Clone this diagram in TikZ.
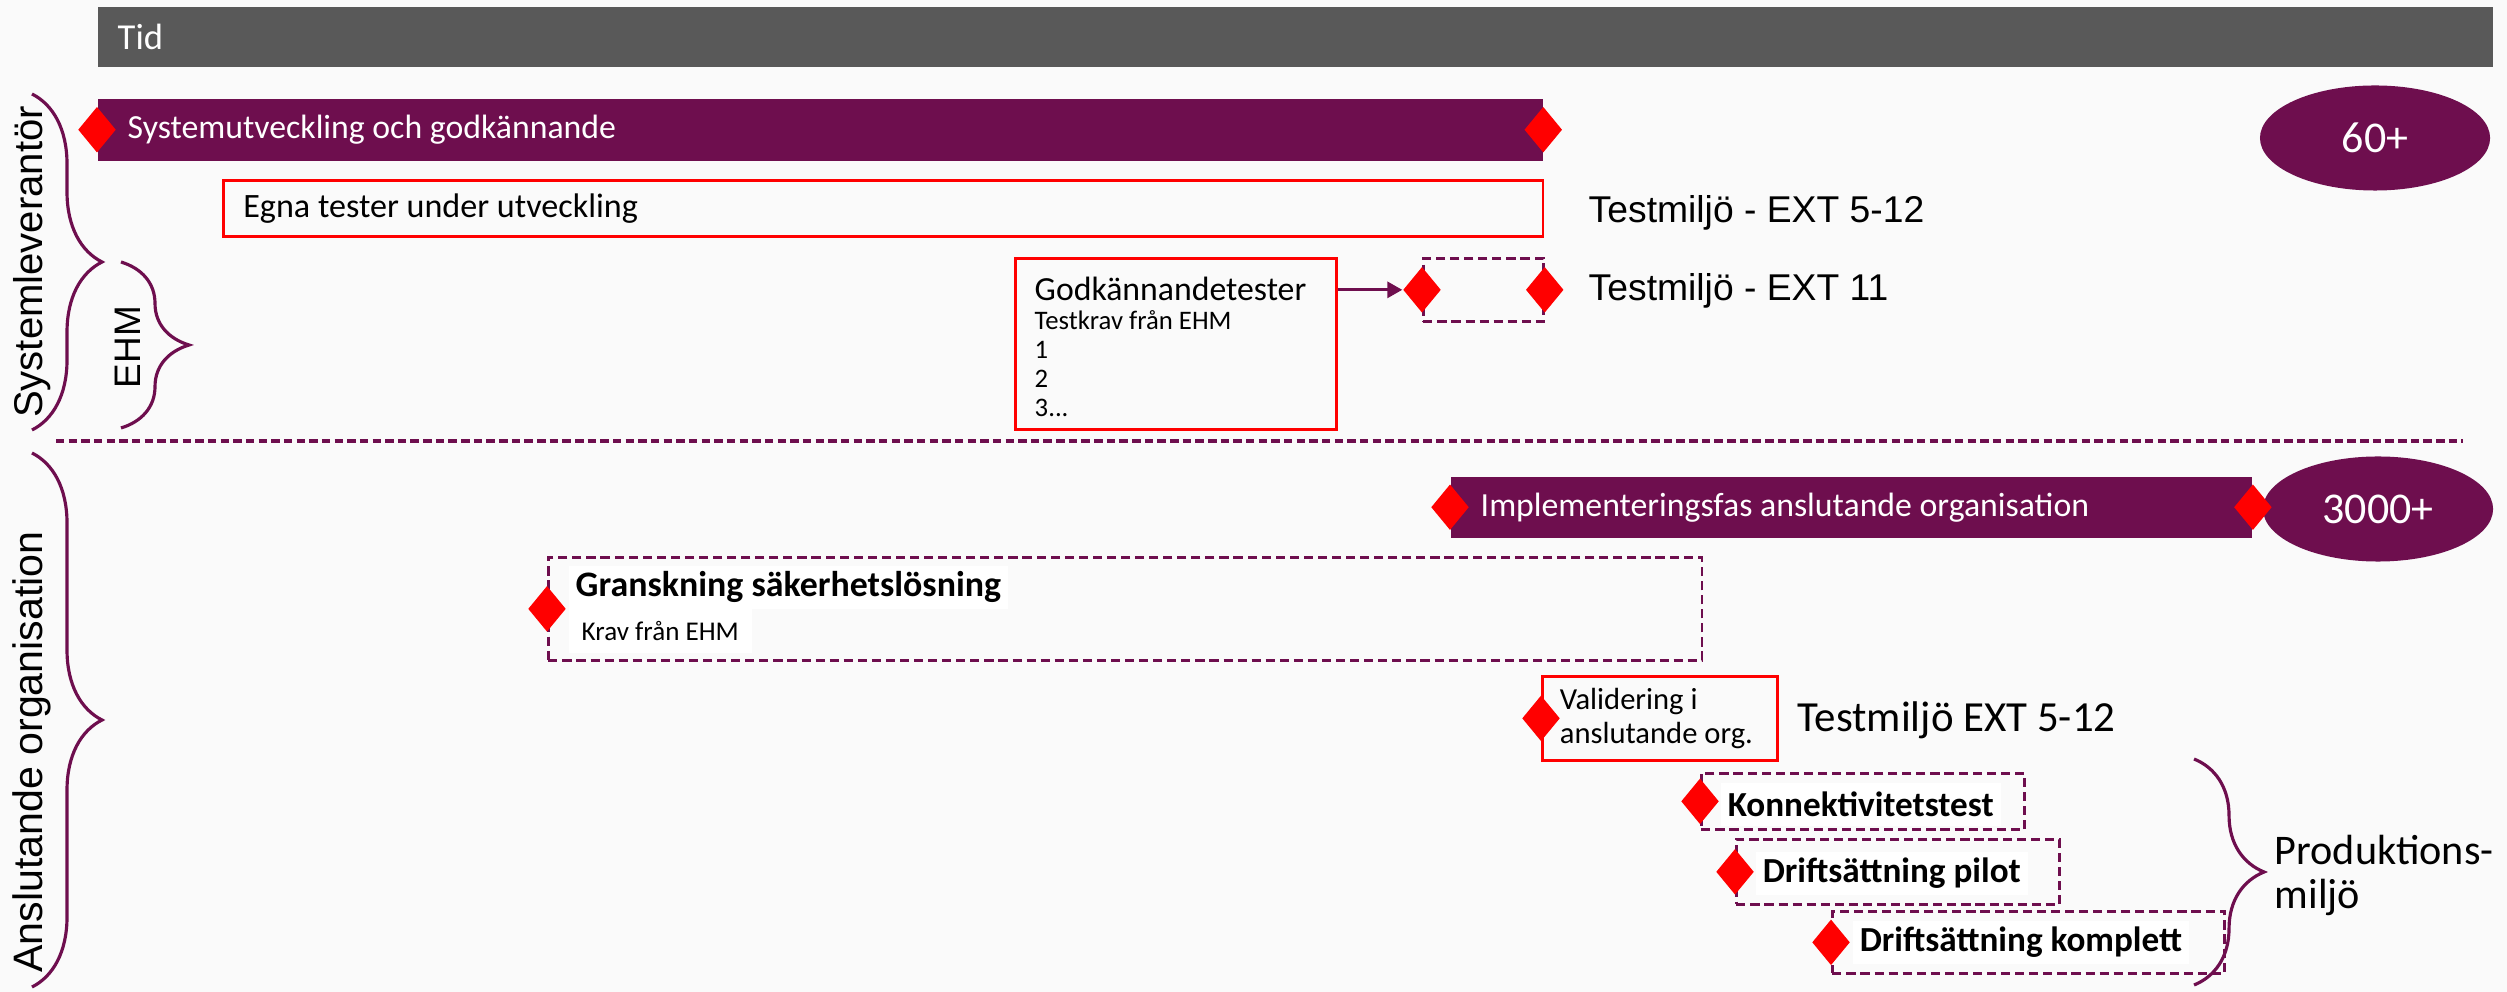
\documentclass[tikz,border=0pt]{standalone}
\usepackage{fontspec}
\setmainfont{Carlito}
\newfontfamily\arialfont{Liberation Sans}
\usepackage{xcolor}
\usepackage{tikz}
\usetikzlibrary{shapes.geometric,arrows.meta,positioning,decorations.pathreplacing}

\definecolor{plum}{RGB}{110,14,78}
\definecolor{bargray}{RGB}{89,89,89}
\definecolor{pagebg}{RGB}{250,250,250}
\definecolor{msred}{RGB}{255,0,0}

\begin{document}
\begin{tikzpicture}[
    x=0.01cm, y=-0.01cm,
    every node/.style={execute at begin node={\spaceskip=0pt\xspaceskip=0pt}},
    timebar/.style={rectangle, fill=bargray, anchor=north west, text=white, align=left, inner xsep=0.2cm, font=\fontsize{10.4}{12}\selectfont},
    phase/.style={rectangle, fill=plum, anchor=north west, text=white, align=left, inner xsep=0.3cm, font=\fontsize{9.6}{11}\selectfont},
    redbox/.style={rectangle, draw=msred, line width=0.75pt, anchor=north west, align=left, inner xsep=0.2cm},
    dashbox/.style={rectangle, draw=plum, dash pattern=on 2.6pt off 1.4pt, line width=0.75pt, anchor=north west, inner sep=0pt},
    ms/.style={diamond, fill=msred, minimum width=0.38cm, minimum height=0.46cm, inner sep=0pt},
    count/.style={ellipse, fill=plum, text=white, inner sep=0pt, minimum width=2.3cm, minimum height=1.05cm, font=\fontsize{12.5}{14}\selectfont},
    tag/.style={rectangle, fill=white, anchor=north west, inner xsep=2pt, inner ysep=0pt, minimum height=0.43cm, font=\fontsize{10}{12}\selectfont\bfseries},
    envlabel/.style={anchor=west, inner sep=0pt, font=\arialfont\fontsize{10.6}{12}\selectfont},
    grplabel/.style={rotate=90, inner sep=0pt, font=\arialfont\fontsize{11.4}{13}\selectfont},
    grpbrace/.style={draw=plum, line width=0.9pt, decorate, decoration={brace, amplitude=0.7cm}},
    flow/.style={draw=plum, line width=0.9pt, -{Triangle[length=0.15cm, width=0.16cm]}},
]
\useasboundingbox (0,0) rectangle (2507,992);
\fill[pagebg] (0,0) rectangle (2507,992);

% Time axis
\node[timebar, minimum width=23.94cm, text width=23.54cm, minimum height=0.6cm] (tid) at (97,6) {Tid};

% Systemleverantor rows
\node[phase, minimum width=14.44cm, text width=13.84cm, minimum height=0.62cm] (sysdev) at (97,98) {Systemutveckling och godkännande};
\node[ms] (sysdevstart) at (sysdev.west) {};
\node[ms] (sysdevend) at (sysdev.east) {};
\node[count] (count60) at (2375,138) {60+};

\node[redbox, minimum width=13.19cm, text width=12.79cm, minimum height=0.56cm, font=\fontsize{9.7}{11}\selectfont] (owntest) at (222,179) {Egna tester under utveckling};
\node[envlabel] (envall) at (1588,213) {Testmiljö - EXT 5-12};

\node[redbox, minimum width=3.21cm, minimum height=1.71cm] (acctest) at (1014,257) {};
\node[anchor=north west, align=left, inner sep=0pt, font=\fontsize{7.6}{8.3}\selectfont] (acctesttext) at (1034,276) {{\fontsize{9.6}{11}\selectfont Godkännandetester}\\Testkrav från EHM\\1\\2\\3...};
\node[dashbox, minimum width=1.2cm, minimum height=0.63cm] (ext11win) at (1422,257) {};
\node[ms] (ext11start) at (ext11win.west) {};
\node[ms] (ext11end) at (ext11win.east) {};
\node[envlabel] (envext11) at (1588,291) {Testmiljö - EXT 11};
\draw[flow] (acctest.east |- ext11start.west) -- (ext11start.west);

% Separator
\coordinate (sepleft) at (56,441);
\coordinate (sepright) at (2463,441);
\draw[draw=plum, line width=0.9pt, dash pattern=on 2.4pt off 1.2pt] (sepleft) -- (sepright);

% Anslutande organisation rows
\node[count] (count3000) at (2378,509) {3000+};
\node[phase, minimum width=8.01cm, text width=7.41cm, minimum height=0.61cm] (impl) at (1450,476) {Implementeringsfas anslutande organisation};
\node[ms] (implstart) at (impl.west) {};
\node[ms] (implend) at (impl.east) {};

\node[dashbox, minimum width=11.53cm, minimum height=1.03cm] (review) at (547,556) {};
\node[ms] (reviewstart) at (review.west) {};
\node[tag, font=\fontsize{10.2}{12}\selectfont\bfseries] (reviewtitle) at (568,565) {Granskning säkerhetslösning};
\node[tag, inner xsep=0.13cm, minimum height=0.44cm, font=\fontsize{7.7}{9}\selectfont] (reviewreq) at (568,608) {Krav från EHM};

\node[redbox, minimum width=2.35cm, text width=2.0cm, inner xsep=0.175cm, minimum height=0.84cm, font=\fontsize{8.7}{9.6}\selectfont] (valid) at (1541,675) {Validering i\\anslutande org.};
\node[ms] (validstart) at (valid.west) {};
\node[envlabel, font=\fontsize{12.2}{14}\selectfont] (envval) at (1797,720) {Testmiljö EXT 5-12};

\node[dashbox, minimum width=3.23cm, minimum height=0.56cm] (conn) at (1700,772) {};
\node[ms] (connstart) at (conn.west) {};
\node[tag] (conntitle) at (1720,782) {Konnektivitetstest};

\node[dashbox, minimum width=3.23cm, minimum height=0.65cm] (pilot) at (1735,838) {};
\node[ms] (pilotstart) at (pilot.west) {};
\node[tag] (pilottitle) at (1755,851) {Driftsättning pilot};

\node[dashbox, minimum width=3.92cm, minimum height=0.62cm] (full) at (1831,910) {};
\node[ms] (fullstart) at (full.west) {};
\node[tag] (fulltitle) at (1852,920) {Driftsättning komplett};

\node[anchor=west, align=left, inner sep=0pt, font=\fontsize{12}{12.5}\selectfont] (prodenv) at (2274,875) {Produktions-\\miljö};

% Group braces
\draw[grpbrace] (32,94) -- (32,430);
\node[grplabel] (suppl) at (32,262) {Systemleverantör};
\draw[grpbrace, decoration={brace, amplitude=0.68cm}] (121,262) -- (121,428);
\node[grplabel, font=\arialfont\fontsize{10.5}{12}\selectfont] (ehm) at (128,347) {EHM};
\draw[grpbrace] (32,453) -- (32,987);
\node[grplabel, font=\arialfont\fontsize{11.7}{13}\selectfont] (connorg) at (32,752) {Anslutande organisation};
\draw[grpbrace] (2194,759) -- (2194,985);

\end{tikzpicture}
\end{document}
